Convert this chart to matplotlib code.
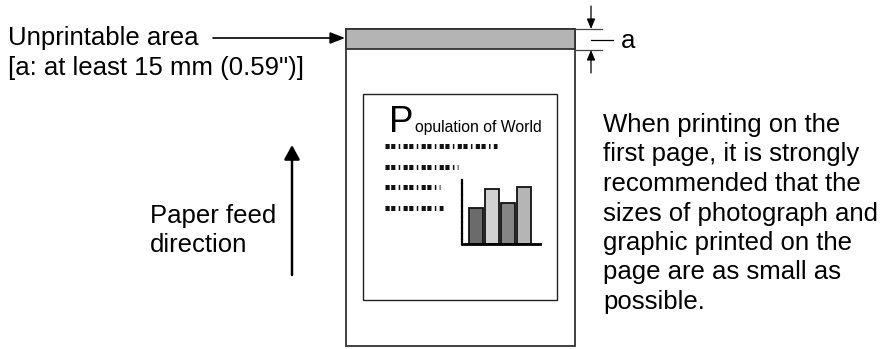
import matplotlib
matplotlib.use("Agg")
import matplotlib.pyplot as plt
from matplotlib.patches import Rectangle

plt.rcParams["font.family"] = ["Liberation Sans", "DejaVu Sans"]
plt.rcParams["lines.scale_dashes"] = False

# 文本内容
LEFT_LINES = ["Unprintable area", "[a: at least 15 mm (0.59\")]"]
FEED_LINES = ["Paper feed", "direction"]
RIGHT_LINES = ["When printing on the", "first page, it is strongly",
               "recommended that the", "sizes of photograph and",
               "graphic printed on the", "page are as small as",
               "possible."]
TITLE_BIG = "P"
TITLE_SMALL = "opulation of World"

# 小柱状图数据
BAR_VALUES = [36, 55, 41, 57]
BAR_COLORS = ["#6b6b6b", "#d2d2d2", "#858585", "#b5b5b5"]

# 虚线行的长度（像素）
DOT_ROW_LENGTHS = [112, 73, 55, 58]

W, H = 887, 349
FS = 18.5

fig = plt.figure(figsize=(W / 100, H / 100), dpi=100)
ax = fig.add_axes([0, 0, 1, 1])
ax.set_xlim(0, W)
ax.set_ylim(H, 0)
ax.axis("off")

def arrow(tail, tip, style, lw):
    ax.annotate("", xy=tip, xytext=tail,
                arrowprops=dict(arrowstyle=style, mutation_scale=10, lw=lw,
                                color="black", shrinkA=0, shrinkB=0))

# 纸张
ax.add_patch(Rectangle((346, 29), 229, 317, fill=False, ec="#333333", lw=1.3))
ax.add_patch(Rectangle((346, 29), 229, 20, fc="#b4b4b4", ec="#333333", lw=1.3))
ax.add_patch(Rectangle((363, 94), 194, 206, fill=False, ec="#222222", lw=1.0))

# 尺寸标注 a
ax.plot([575, 602], [29, 29], color="#444444", lw=0.9)
ax.plot([575, 602], [50, 50], color="#444444", lw=0.9)
ax.plot([591, 613], [40, 40], color="black", lw=0.9)
arrow((591, 6), (591, 29), "-|>,head_length=0.6,head_width=0.25", 0.9)
arrow((591, 73), (591, 50), "-|>,head_length=0.6,head_width=0.25", 0.9)
ax.text(621, 48, "a", fontsize=FS, va="baseline", ha="left")

# 左侧说明
ax.text(8, 45, LEFT_LINES[0], fontsize=FS, va="baseline")
ax.text(8, 75, LEFT_LINES[1], fontsize=FS, va="baseline")
arrow((213, 38), (345, 38), "-|>,head_length=0.9,head_width=0.35", 1.2)

# 进纸方向
ax.text(150, 223, FEED_LINES[0], fontsize=FS, va="baseline")
ax.text(150, 252, FEED_LINES[1], fontsize=FS, va="baseline")
arrow((292, 275), (292, 145), "-|>,head_length=0.86,head_width=0.47", 1.8)

# 右侧说明
for i, line in enumerate(RIGHT_LINES):
    ax.text(603, 132 + i * 29.5, line, fontsize=FS, va="baseline")

# 页面内示意标题
ax.text(389, 132, TITLE_BIG, fontsize=26.5, va="baseline")
ax.text(415, 132, TITLE_SMALL, fontsize=11.3, va="baseline")

# 示意文字行
for i, n in enumerate(DOT_ROW_LENGTHS):
    y = 146 + i * 20.7
    ax.plot([385, 385 + n], [y, y], color="#111111", lw=3.6,
            dashes=(3.0, 1.1, 3.0, 2.4, 1.1, 2.4), solid_capstyle="butt")

# 小柱状图
bx = fig.add_axes([462 / W, (H - 244) / H, 78 / W, 64 / H])
bx.bar(range(len(BAR_VALUES)), BAR_VALUES, width=0.875, color=BAR_COLORS,
       edgecolor="#111111", lw=1.3)
bx.set_xlim(-0.875, 4.0)
bx.set_ylim(0, 64)
bx.set_xticks([])
bx.set_yticks([])
bx.patch.set_visible(False)
for s in ["top", "right"]:
    bx.spines[s].set_visible(False)
bx.spines["left"].set_linewidth(1.6)
bx.spines["left"].set_linestyle((0, (3, 1)))
bx.spines["bottom"].set_linewidth(2.0)

fig.savefig("out.png", dpi=100)
